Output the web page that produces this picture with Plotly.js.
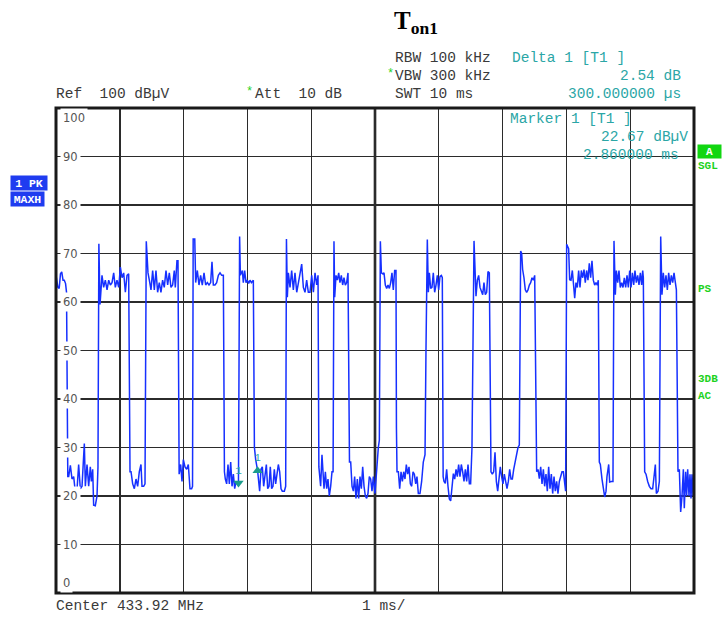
<!DOCTYPE html>
<html>
<head>
<meta charset="utf-8">
<script src="https://cdn.plot.ly/plotly-3.0.1.min.js"></script>
<style>html,body{margin:0;padding:0;background:#fff;}#chart{width:723px;height:617px;}</style>
</head>
<body>
<div id="chart"></div>
<script>
const timeMs = [
0.000,0.030,0.050,0.070,0.090,0.110,0.130,0.150,0.165,0.185,0.199,0.225,0.251,0.277,0.303,0.329,0.355,0.381,0.408,0.425,
0.444,0.460,0.486,0.512,0.538,0.554,0.575,0.590,0.616,0.643,0.658,0.672,0.690,0.721,0.747,0.773,0.800,0.826,0.852,0.878,
0.904,0.930,0.956,0.983,1.009,1.035,1.061,1.087,1.113,1.139,1.160,1.176,1.202,1.228,1.254,1.280,1.306,1.332,1.348,1.374,
1.395,1.415,1.442,1.463,1.489,1.515,1.541,1.567,1.593,1.619,1.645,1.671,1.697,1.724,1.750,1.776,1.802,1.828,1.854,1.870,
1.896,1.912,1.930,1.954,1.975,1.996,2.022,2.048,2.074,2.100,2.126,2.140,2.150,2.175,2.189,2.215,2.241,2.267,2.293,2.320,
2.346,2.372,2.398,2.424,2.445,2.466,2.492,2.518,2.545,2.571,2.597,2.623,2.640,2.654,2.675,2.696,2.717,2.738,2.759,2.780,
2.801,2.821,2.842,2.860,2.870,2.878,2.890,2.921,2.936,2.957,2.978,2.999,3.020,3.041,3.062,3.093,3.110,3.130,3.160,3.171,
3.192,3.213,3.234,3.255,3.276,3.297,3.318,3.339,3.359,3.380,3.401,3.422,3.443,3.464,3.485,3.506,3.527,3.547,3.579,3.600,
3.612,3.626,3.642,3.668,3.694,3.720,3.746,3.773,3.799,3.825,3.851,3.877,3.903,3.929,3.955,3.981,4.008,4.034,4.060,4.086,
4.107,4.120,4.148,4.169,4.185,4.201,4.222,4.243,4.263,4.284,4.305,4.326,4.343,4.357,4.368,4.389,4.410,4.431,4.451,4.472,
4.493,4.514,4.535,4.556,4.577,4.585,4.600,4.619,4.640,4.661,4.681,4.702,4.723,4.744,4.765,4.786,4.807,4.828,4.849,4.869,
4.890,4.911,4.932,4.953,4.974,5.000,5.026,5.052,5.068,5.084,5.100,5.121,5.141,5.162,5.183,5.204,5.225,5.246,5.266,5.287,
5.308,5.329,5.336,5.345,5.366,5.387,5.408,5.429,5.450,5.470,5.491,5.512,5.533,5.554,5.575,5.596,5.617,5.638,5.658,5.679,
5.705,5.731,5.757,5.784,5.799,5.820,5.836,5.852,5.872,5.893,5.914,5.935,5.956,5.977,5.998,6.019,6.040,6.055,6.068,6.082,
6.102,6.123,6.144,6.165,6.186,6.207,6.228,6.249,6.270,6.290,6.311,6.332,6.353,6.374,6.395,6.416,6.437,6.458,6.479,6.499,
6.520,6.552,6.567,6.583,6.604,6.625,6.646,6.667,6.688,6.708,6.729,6.750,6.771,6.792,6.804,6.818,6.839,6.860,6.881,6.902,
6.923,6.944,6.964,6.985,7.006,7.027,7.048,7.069,7.090,7.111,7.132,7.153,7.174,7.195,7.221,7.241,7.262,7.283,7.299,7.314,
7.335,7.356,7.377,7.398,7.419,7.440,7.461,7.482,7.503,7.518,7.534,7.555,7.576,7.597,7.618,7.639,7.659,7.680,7.701,7.722,
7.743,7.764,7.785,7.806,7.826,7.847,7.868,7.889,7.910,7.931,7.952,7.973,7.988,8.004,8.035,8.051,8.072,8.093,8.114,8.130,
8.150,8.171,8.192,8.213,8.234,8.255,8.276,8.296,8.317,8.338,8.359,8.380,8.401,8.422,8.443,8.464,8.485,8.500,8.516,8.532,
8.558,8.584,8.600,8.621,8.636,8.663,8.678,8.704,8.730,8.746,8.767,8.783,8.804,8.824,8.845,8.866,8.887,8.908,8.929,8.950,
8.971,8.992,9.013,9.034,9.055,9.075,9.096,9.117,9.138,9.159,9.180,9.196,9.206,9.227,9.248,9.274,9.300,9.326,9.352,9.378,
9.394,9.410,9.436,9.457,9.478,9.498,9.519,9.540,9.561,9.582,9.603,9.624,9.645,9.666,9.687,9.708,9.724,9.749,9.770,9.791,
9.812,9.833,9.848,9.869,9.885,9.901,9.922,9.937,9.953,9.969,9.984,10.000
];
const levelDbuV = [
65.5,63.0,62.8,65.8,66.2,64.5,64.5,63.8,62.0,24.0,24.0,26.3,23.5,24.0,20.8,21.2,26.5,21.5,22.0,26.0,
30.8,22.0,26.5,22.0,26.0,23.0,25.5,18.1,18.0,20.0,26.0,72.0,59.5,65.5,63.0,64.5,62.5,64.5,63.5,64.0,
66.0,63.0,64.5,63.0,67.2,65.0,66.0,62.0,65.5,65.8,25.0,25.0,22.5,21.5,23.5,22.0,25.0,26.5,22.0,22.0,
22.5,72.5,66.0,64.5,62.5,66.5,62.5,66.5,62.0,64.0,62.0,64.5,63.0,66.5,63.5,66.0,63.0,63.5,66.5,63.0,
68.5,68.5,24.5,26.5,23.0,27.5,26.0,25.5,26.5,21.5,21.5,22.0,73.0,73.0,64.0,66.5,63.5,65.5,63.5,66.0,
63.5,64.0,63.5,64.0,68.3,63.5,63.5,64.0,65.5,66.0,65.5,65.5,25.0,23.5,22.5,26.5,22.5,27.0,22.0,24.5,
21.5,23.0,22.5,22.67,43.0,73.5,65.5,66.5,64.0,66.5,64.0,64.5,63.8,64.5,64.0,64.5,30.0,27.5,25.21,23.5,
21.0,25.5,26.0,22.0,25.0,26.5,21.5,22.0,26.0,21.5,22.0,25.5,22.5,25.0,26.5,25.0,21.5,21.0,21.0,22.0,
73.0,61.0,66.0,63.0,66.5,62.5,66.0,62.0,64.0,65.5,67.8,63.0,62.0,64.5,62.0,62.0,65.5,62.0,66.0,63.5,
65.5,26.0,22.0,28.5,25.0,21.5,25.0,21.5,23.5,20.0,22.0,25.0,25.0,72.5,61.0,65.5,64.5,66.0,64.0,65.5,
63.5,65.0,63.5,64.0,66.0,52.5,27.0,27.0,22.0,21.0,24.0,19.5,23.5,19.5,24.0,21.5,26.0,22.0,20.0,19.5,
20.5,24.0,23.5,21.0,24.0,20.5,25.6,30.0,31.5,72.5,66.0,65.8,66.0,63.5,62.8,63.5,62.8,64.0,66.0,62.5,
66.5,66.5,34.0,25.0,25.0,21.5,25.0,23.0,25.0,23.5,26.5,24.5,26.0,22.5,22.0,25.0,24.5,22.5,24.0,20.5,
20.5,23.0,27.0,28.5,50.0,72.9,62.0,66.0,62.8,63.0,66.0,62.0,63.5,65.5,62.5,65.3,65.5,65.0,24.0,23.0,
22.6,25.5,22.0,19.4,19.0,22.0,24.6,23.5,25.5,24.0,26.5,24.0,26.5,25.0,23.0,25.5,23.0,26.5,22.5,22.5,
30.0,72.6,66.5,61.2,64.5,65.5,63.0,62.0,61.5,64.0,61.5,62.0,66.3,66.0,34.0,25.0,24.5,25.0,29.0,23.0,
21.0,24.0,26.0,24.0,22.5,24.5,22.5,21.5,23.0,25.5,23.5,23.5,25.5,27.0,28.5,30.0,30.5,70.5,70.0,66.7,
65.0,62.5,62.0,62.5,63.5,64.0,65.0,64.5,65.5,35.7,25.0,25.5,23.6,26.0,22.5,25.5,22.0,24.5,21.0,26.0,
21.5,24.5,20.5,24.0,21.0,23.0,20.5,23.0,24.0,25.0,25.0,22.0,21.0,71.9,71.0,64.6,64.5,66.5,62.5,60.8,
64.0,63.0,66.5,63.0,66.5,65.0,66.7,64.0,66.5,64.5,68.0,65.0,68.5,64.5,63.5,64.0,63.5,64.5,27.0,26.5,
23.5,21.0,19.8,21.0,24.0,26.5,22.9,23.0,23.0,72.6,61.5,66.5,64.0,66.5,63.0,64.0,63.0,65.0,63.0,65.5,
63.0,66.5,63.0,66.0,63.5,66.5,64.0,65.5,63.5,66.0,63.5,66.5,65.0,25.0,24.5,23.0,22.0,21.5,21.5,24.5,
26.5,20.5,21.0,23.0,73.5,61.5,66.0,63.0,65.5,62.5,66.0,63.5,65.5,64.0,66.0,64.0,62.5,25.0,25.5,16.7,
20.0,25.5,17.5,25.0,20.0,25.5,20.0,24.5,19.5,24.5,20.0,25.0
];
// Marker 1 and Delta 1 positions
const markerTimeMs = [2.86, 3.16];
const markerLevel = [22.67, 25.21];
const markerLabels = ['1', '1'];
// Grid labels (dBµV)
const yTickValues = [100, 90, 80, 70, 60, 50, 40, 30, 20, 10, 0];
const yTickLabels = ['100', '90', '80', '70', '60', '50', '40', '30', '20', '10', '0'];

const W = 723, H = 617, L = 56, R = 694, T = 108, B = 593;
const P = px => (px - L) / (R - L);
const Q = py => (B - py) / (B - T);
const MONO = 'Liberation Mono, Courier New, monospace';
const DARK = '#3a3a3a', TEAL = '#2ba6a6', GREEN = '#1ed21e';

function txt(text, px, py, color, anchor, size, extra) {
  return Object.assign({
    text: text, xref: 'paper', yref: 'paper', x: P(px), y: Q(py),
    xanchor: anchor || 'left', yanchor: 'middle', showarrow: false,
    font: {family: MONO, size: size || 14.5, color: color || DARK}
  }, extra || {});
}

const annotations = [
  txt('RBW 100 kHz', 393, 58),
  txt('Delta 1 [T1 ]', 510, 58, TEAL),
  txt('*', 385, 74, GREEN, 'left', 12),
  txt('VBW 300 kHz', 393, 76),
  txt('2.54 dB', 683, 76, TEAL, 'right'),
  txt('Ref\u00a0\u00a0100 dBµV', 54, 94),
  txt('*', 244, 92, GREEN, 'left', 12),
  txt('Att\u00a0\u00a010 dB', 253, 94),
  txt('SWT 10 ms', 393, 94),
  txt('300.000000 µs', 683, 94, TEAL, 'right'),
  txt('Marker 1 [T1 ]', 508, 119, TEAL),
  txt('22.67 dBµV', 690, 137, TEAL, 'right'),
  txt('2.860000 ms', 681, 155, TEAL, 'right'),
  txt('Center 433.92 MHz', 54, 606),
  txt('1 ms/', 360, 606),
  txt('<b>1 PK</b>', 10, 183, '#ffffff', 'left', 11.5, {bgcolor: '#1f3cf0', width: 36, height: 14, borderpad: 0, align: 'center'}),
  txt('<b>MAXH</b>', 10, 199, '#ffffff', 'left', 11.5, {bgcolor: '#1f3cf0', width: 33, height: 14, borderpad: 0, align: 'center'}),
  txt('<b>A</b>', 697, 151, '#ffffff', 'left', 11, {bgcolor: '#11d611', width: 23, height: 13, borderpad: 0, align: 'center'}),
  txt('<b>SGL</b>', 696, 166, GREEN, 'left', 11),
  txt('<b>PS</b>', 696, 289, GREEN, 'left', 11),
  txt('<b>3DB</b>', 696, 379, GREEN, 'left', 11),
  txt('<b>AC</b>', 696, 396, GREEN, 'left', 11)
];

yTickValues.forEach((v, i) => {
  let py = B - v * (B - T) / 100;
  if (v === 100) py = 118;
  if (v === 0) py = 583;
  annotations.push({
    text: yTickLabels[i], xref: 'paper', yref: 'paper', x: P(60), y: Q(py),
    xanchor: 'left', yanchor: 'middle', showarrow: false,
    bgcolor: '#ffffff', borderpad: 2,
    font: {family: 'DejaVu Sans, sans-serif', size: 11.5, color: '#555555'}
  });
});

const data = [
  {
    x: timeMs, y: levelDbuV, type: 'scatter', mode: 'lines',
    line: {color: '#1630ff', width: 1.5}, hoverinfo: 'skip'
  },
  {
    x: markerTimeMs, y: markerLevel, type: 'scatter', mode: 'markers+text',
    marker: {symbol: ['triangle-down', 'triangle-up'], size: 9, color: '#1a9c8c'},
    text: markerLabels, textposition: 'top center',
    textfont: {family: MONO, size: 11, color: TEAL}, hoverinfo: 'skip'
  }
];

const layout = {
  width: W, height: H,
  margin: {l: L, r: W - R, t: T, b: H - B, pad: 0},
  paper_bgcolor: '#ffffff', plot_bgcolor: '#ffffff',
  showlegend: false,
  title: {
    text: '<b>T<sub>on1</sub></b>',
    font: {family: 'Liberation Serif, Times New Roman, serif', size: 25, color: '#000000'},
    x: 416 / W, xanchor: 'center', xref: 'container',
    y: 1 - 20 / H, yanchor: 'middle', yref: 'container'
  },
  xaxis: {
    range: [0, 10], tick0: 0, dtick: 1, showgrid: true, gridcolor: '#2b2b2b', gridwidth: 1.4,
    showticklabels: false, ticks: '', zeroline: false, showline: false, fixedrange: true
  },
  yaxis: {
    range: [0, 100], tick0: 0, dtick: 10, showgrid: true, gridcolor: '#2b2b2b', gridwidth: 1.4,
    showticklabels: false, ticks: '', zeroline: false, showline: false, fixedrange: true
  },
  shapes: [
    {type: 'line', xref: 'x', yref: 'paper', x0: 5, x1: 5, y0: 0, y1: 1, line: {color: '#1a1a1a', width: 2.6}, layer: 'below'},
    {type: 'rect', xref: 'paper', yref: 'paper', x0: 0, x1: 1, y0: 0, y1: 1, line: {color: '#1a1a1a', width: 3}}
  ],
  annotations: annotations
};

Plotly.newPlot('chart', data, layout, {staticPlot: true, displayModeBar: false});
</script>
</body>
</html>
